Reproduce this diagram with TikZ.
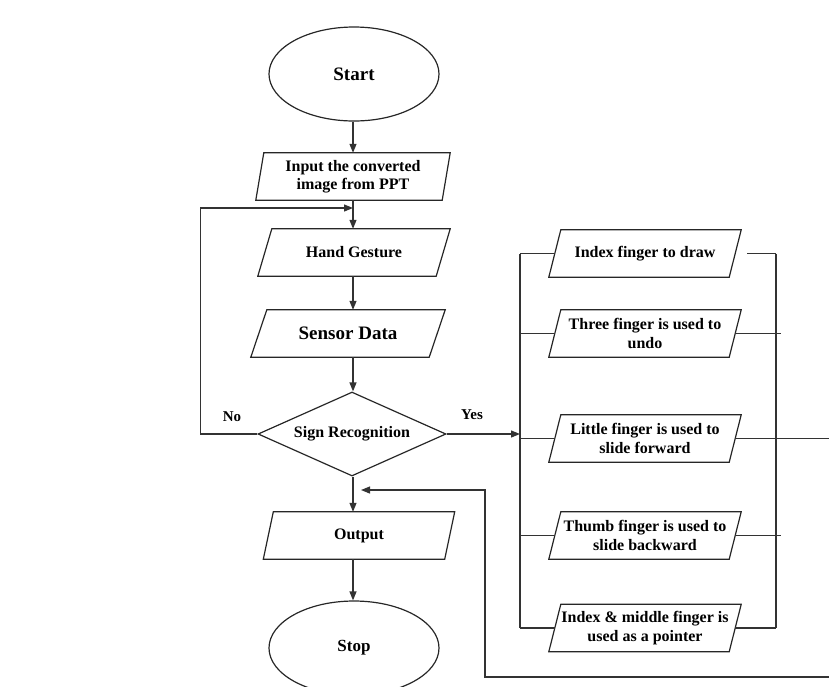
\documentclass[tikz,border=0pt]{standalone}
\usepackage{fontspec}
\setmainfont{Liberation Serif}
\usetikzlibrary{arrows.meta,shapes.geometric}
\newcommand\parabox[5]{% name, position, half-slant, options, text
  \node[pbox,#4] (#1) at (#2) {#5};
  \draw[outline] ([xshift=#3]#1.north west) -- ([xshift=#3]#1.north east) -- ([xshift=-#3]#1.south east) -- ([xshift=-#3]#1.south west) -- cycle;
}
\begin{document}
\begin{tikzpicture}[x=1pt,y=-1pt,
  outline/.style={draw=black!85, line width=1.2pt},
  pbox/.style={rectangle, inner sep=0pt, minimum height=47pt, align=center, font=\bfseries\fontsize{16}{18.5}\selectfont},
  term/.style={ellipse, draw=black!85, line width=1.2pt, minimum width=170pt, minimum height=94pt, inner sep=0pt, font=\bfseries\fontsize{19}{22}\selectfont},
  decision/.style={diamond, draw=black!85, line width=1.2pt, aspect=2.24, minimum width=188pt, minimum height=84pt, inner sep=1pt, font=\bfseries\fontsize{16}{18.5}\selectfont},
  conn/.style={draw=black!80, line width=1.2pt},
  arr/.style={conn, -{Triangle[length=9pt,width=7pt]}},
  lbl/.style={font=\bfseries\fontsize{15}{17}\selectfont, inner sep=0pt}]

\useasboundingbox (0,0) rectangle (829,686);
\clip (0,0) rectangle (829,686);

% main column
\node[term] (start) at (354,74) {Start};
\parabox{input}{353,176.5}{4pt}{minimum width=186pt}{Input the converted\\image from PPT}
\parabox{hand}{354,252.5}{7pt}{minimum width=178pt}{Hand Gesture}
\parabox{sensor}{348,333.5}{8pt}{minimum width=178pt, font=\bfseries\fontsize{19}{22}\selectfont}{Sensor Data}
\node[decision] (sign) at (352,434) {Sign Recognition};
\parabox{output}{359,535.5}{5pt}{minimum width=181pt}{Output}
\node[term, font=\bfseries\fontsize{17}{20}\selectfont] (stop) at (354,648) {Stop};

% gesture column
\parabox{g1}{645,253.5}{6pt}{minimum width=180pt}{Index finger to draw}
\parabox{g2}{645,333.5}{6pt}{minimum width=180pt}{Three finger is used to\\undo}
\parabox{g3}{645,438.5}{6pt}{minimum width=180pt}{Little finger is used to\\slide forward}
\parabox{g4}{645,535.5}{6pt}{minimum width=180pt}{Thumb finger is used to\\slide backward}
\parabox{g5}{645,628}{6pt}{minimum width=180pt}{Index \& middle finger is\\used as a pointer}

% labels
\node[lbl] (no) at (232,417) {No};
\node[lbl] (yes) at (472,415) {Yes};

% helper coordinates
\coordinate (main) at (353,0);
\coordinate (fb) at (353,208);
\coordinate (busL) at (520,0);
\coordinate (busR) at (776,0);
\coordinate (busR2) at (781,0);
\coordinate (farR) at (834,0);
\coordinate (loopBL) at (485,677);
\coordinate (ret) at (361,490);

% main flow
\draw[arr] (start.south -| main) -- (input.north -| main);
\draw[arr] (input.south -| main) -- (hand.north -| main);
\draw[arr] (hand.south -| main) -- (sensor.north -| main);
\draw[arr] (sensor.south -| main) -- (sign.north -| main);
\draw[arr] (sign.south -| main) -- (output.north -| main);
\draw[arr] (output.south -| main) -- (stop.north -| main);

% No loop
\draw[arr] (sign.west) -- ++(-57,0) |- (fb);

% Yes branch
\draw[arr] (sign.east) -- (sign.east -| busL);
\draw[conn] (g1.west -| busL) -- (g5.west -| busL);
\foreach \g in {g1,g2,g3,g4,g5} \draw[conn] (\g.west -| busL) -- (\g.west);

% right bus
\draw[conn] (g1.east -| busR) -- (g5.east -| busR);
\draw[conn] ([xshift=12pt]g1.east) -- (g1.east -| busR);
\draw[conn] (g2.east) -- (g2.east -| busR2);
\draw[conn] (g4.east) -- (g4.east -| busR2);
\draw[conn] (g5.east) -- (g5.east -| busR);

% return loop
\draw[arr] (g3.east) -- (g3.east -| farR) |- (loopBL) |- (ret);
\end{tikzpicture}
\end{document}
